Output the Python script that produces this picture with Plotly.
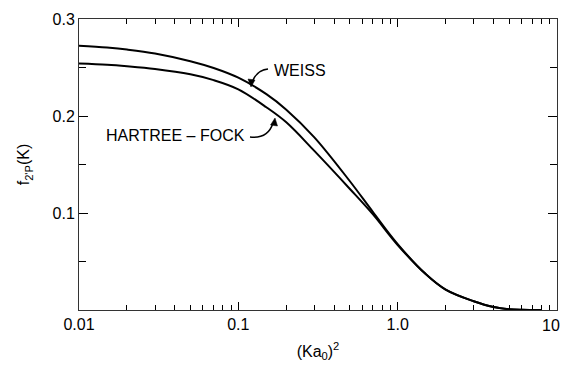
import plotly.graph_objects as go

# Data
x_weiss = [0.01, 0.015, 0.02, 0.03, 0.05, 0.07, 0.1, 0.15, 0.2, 0.3, 0.5, 0.7, 1.0, 1.5, 2.0, 3.0, 4.0, 5.0, 6.0, 8.0]
y_weiss = [0.2725, 0.2705, 0.2685, 0.2645, 0.2565, 0.2495, 0.2395, 0.2225, 0.2065, 0.178, 0.133, 0.101, 0.068, 0.037, 0.021, 0.009, 0.003, 0.0008, 0.0002, 0.0]
x_hf = [0.01, 0.015, 0.02, 0.03, 0.05, 0.07, 0.1, 0.15, 0.2, 0.3, 0.5, 0.7, 1.0, 1.5, 2.0, 3.0, 4.0, 5.0, 6.0, 8.0]
y_hf = [0.254, 0.2528, 0.2513, 0.2485, 0.2430, 0.2370, 0.2275, 0.2090, 0.1935, 0.1640, 0.1250, 0.0985, 0.067, 0.037, 0.021, 0.009, 0.003, 0.0008, 0.0002, 0.0]

x_tickvals = [0.01, 0.1, 1.0, 10.0]
x_ticktext = ["0.01", "0.1", "1.0", ""]
x_last_label = "10"
x_minor = [m * d for d in (0.01, 0.1, 1.0) for m in range(2, 10)]
y_tickvals = [0.1, 0.2, 0.3]
y_ticktext = ["0.1", "0.2", "0.3"]
y_minor = [0.05, 0.15, 0.25]

FONT = "Liberation Sans, Arial, sans-serif"

fig = go.Figure()
fig.add_trace(go.Scatter(x=x_weiss, y=y_weiss, mode="lines", line=dict(color="black", width=2, shape="spline", smoothing=1.0), showlegend=False))
fig.add_trace(go.Scatter(x=x_hf, y=y_hf, mode="lines", line=dict(color="black", width=2, shape="spline", smoothing=1.0), showlegend=False))

W, H = 563, 368
L, R, T, B = 79, 6, 19, 58
pw, ph = W - L - R, H - T - B

def px(xp):
    return (xp - L) / pw

def py(yp):
    return (H - B - yp) / ph

# curved leader lines (paper coordinates)
fig.add_shape(type="path", xref="paper", yref="paper",
              path=f"M {px(268)},{py(69)} Q {px(257)},{py(70)} {px(252)},{py(82)}",
              line=dict(color="black", width=1.5))
fig.add_shape(type="path", xref="paper", yref="paper",
              path=f"M {px(250)},{py(137)} Q {px(268)},{py(139)} {px(273)},{py(123)}",
              line=dict(color="black", width=1.5))
# arrowheads
fig.add_shape(type="path", xref="paper", yref="paper",
              path=f"M {px(251)},{py(87)} L {px(248)},{py(79)} L {px(255)},{py(80)} Z",
              line=dict(color="black", width=0.5), fillcolor="black")
fig.add_shape(type="path", xref="paper", yref="paper",
              path=f"M {px(275)},{py(118)} L {px(270.5)},{py(125)} L {px(277.5)},{py(126)} Z",
              line=dict(color="black", width=0.5), fillcolor="black")

fig.add_annotation(x=px(272), y=py(70), xref="paper", yref="paper", text="WEISS", showarrow=False,
                   xanchor="left", yanchor="middle", font=dict(family=FONT, size=16, color="black"))
fig.add_annotation(x=px(247), y=py(135), xref="paper", yref="paper", text="HARTREE – FOCK", showarrow=False,
                   xanchor="right", yanchor="middle", font=dict(family=FONT, size=16, color="black"))
# last x tick label, kept inside the window like in the reference
fig.add_annotation(x=1, y=py(325), xref="paper", yref="paper", text=x_last_label, showarrow=False,
                   xanchor="right", yanchor="middle", xshift=5, font=dict(family=FONT, size=16, color="black"))

fig.update_xaxes(type="log", range=[-2, 1], tickvals=x_tickvals, ticktext=x_ticktext,
                 ticks="inside", ticklen=8, tickwidth=1, tickcolor="black",
                 minor=dict(tickvals=x_minor, ticks="inside", ticklen=5, tickcolor="black", showgrid=False),
                 showline=True, linecolor="#333", linewidth=1, mirror="ticks", showgrid=False, zeroline=False,
                 automargin=False, ticklabeloverflow="allow",
                 tickfont=dict(family=FONT, size=16, color="black"),
                 title=dict(text="(Ka<sub>0</sub>)<sup>2</sup>", font=dict(family=FONT, size=16, color="black"), standoff=13))
fig.update_yaxes(range=[0, 0.3], tickvals=y_tickvals, ticktext=y_ticktext,
                 ticks="inside", ticklen=9, tickwidth=1, tickcolor="black",
                 minor=dict(tickvals=y_minor, ticks="inside", ticklen=7, tickcolor="black", showgrid=False),
                 showline=True, linecolor="#333", linewidth=1, mirror="ticks", showgrid=False, zeroline=False,
                 automargin=False, ticklabeloverflow="allow",
                 tickfont=dict(family=FONT, size=16, color="black"),
                 title=dict(text="f<sub>2'P</sub>(K)", font=dict(family=FONT, size=16, color="black"), standoff=18))

fig.update_layout(width=W, height=H, margin=dict(l=L, r=R, t=T, b=B),
                  plot_bgcolor="white", paper_bgcolor="white")

fig.write_html("out.html", config={"displayModeBar": False})

# remove the browser's default page margin so the figure sits at the window origin
with open("out.html", encoding="utf-8") as f:
    html = f.read()
html = html.replace("<head>", "<head><style>html,body{margin:0;padding:0;overflow:hidden;}</style>", 1)
with open("out.html", "w", encoding="utf-8") as f:
    f.write(html)
